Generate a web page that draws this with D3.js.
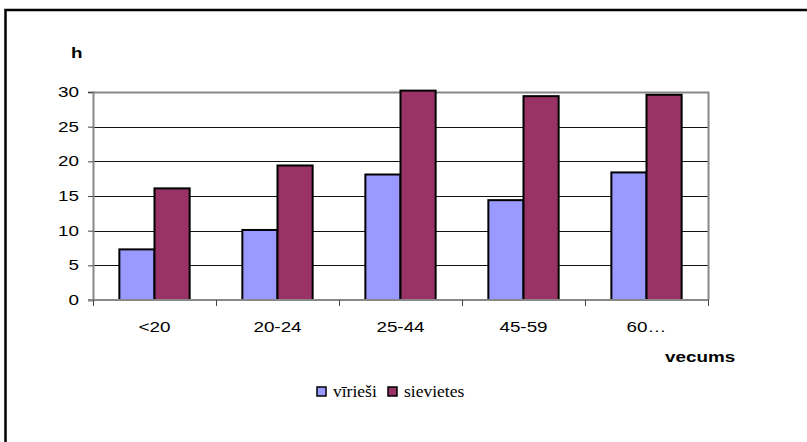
<!DOCTYPE html>
<html>
<head>
<meta charset="utf-8">
<script src="https://cdn.jsdelivr.net/npm/d3@7"></script>
<style>
  html, body { margin: 0; padding: 0; background: #fff; }
  svg { display: block; }
</style>
</head>
<body>
<svg id="chart" width="807" height="442"></svg>
<script>
// Age groups and hours per group
const categories = ["<20", "20-24", "25-44", "45-59", "60…"];
const seriesNames = ["vīrieši", "sievietes"];
const viriesi = [7.3, 10.1, 18.1, 14.4, 18.4];
const sievietes = [16.1, 19.4, 30.2, 29.4, 29.6];
const yTicks = [0, 5, 10, 15, 20, 25, 30];
const seriesColors = ["#9999FF", "#993366"];

const svg = d3.select("#chart");
const plotLeft = 93, plotRight = 708, plotTop = 92, plotBottom = 300;
const sans = "Liberation Sans, Arial, sans-serif";
const sx = 1.3; // wide sans lettering

// Outer frame
svg.append("rect")
  .attr("x", 5.5).attr("y", 10)
  .attr("width", 900).attr("height", 900)
  .attr("fill", "none").attr("stroke", "#000").attr("stroke-width", 2.5);

const x = d3.scaleBand().domain(categories).range([plotLeft, plotRight]).padding(0);
const xs = d3.scaleBand().domain(seriesNames).range([0, x.bandwidth()])
  .paddingInner(0).paddingOuter(0.75);
const y = d3.scaleLinear().domain([0, 30]).range([plotBottom, plotTop]);

// Horizontal gridlines
svg.append("g").selectAll("line")
  .data(yTicks.filter(t => t > 0 && t < 30))
  .join("line")
  .attr("x1", plotLeft).attr("x2", plotRight)
  .attr("y1", d => Math.round(y(d)) + 0.5).attr("y2", d => Math.round(y(d)) + 0.5)
  .attr("stroke", "#111").attr("stroke-width", 1);

// Plot area frame (top and right)
svg.append("path")
  .attr("d", `M${plotLeft},${Math.round(y(30)) + 0.5}H${plotRight + 0.5}V${plotBottom}`)
  .attr("fill", "none").attr("stroke", "#888").attr("stroke-width", 2);

// Bars
const rows = categories.map((c, i) => ({ c, vals: [viriesi[i], sievietes[i]] }));
const groups = svg.append("g").selectAll("g")
  .data(rows).join("g")
  .attr("transform", d => `translate(${x(d.c)},0)`);
groups.selectAll("rect")
  .data(d => d.vals.map((v, j) => ({ s: seriesNames[j], v, j })))
  .join("rect")
  .attr("x", d => xs(d.s))
  .attr("y", d => y(d.v))
  .attr("width", xs.bandwidth())
  .attr("height", d => plotBottom - y(d.v))
  .attr("fill", d => seriesColors[d.j])
  .attr("stroke", "#000").attr("stroke-width", 2);

// Y axis
const yAxis = svg.append("g")
  .attr("transform", `translate(${plotLeft},0)`)
  .call(d3.axisLeft(y).tickValues(yTicks).tickSize(5).tickPadding(9));
yAxis.select(".domain").attr("stroke", "#888").attr("stroke-width", 2);
yAxis.selectAll(".tick line").attr("stroke", "#444");
yAxis.selectAll("text")
  .attr("x", -14 / sx)
  .attr("transform", `scale(${sx},1)`)
  .attr("font-family", sans)
  .attr("font-size", 14.5).attr("fill", "#000");

// X axis with ticks at category boundaries
const xAxis = svg.append("g").attr("transform", `translate(0,${plotBottom})`);
xAxis.append("line")
  .attr("x1", plotLeft - 5).attr("x2", plotRight + 1)
  .attr("y1", 0).attr("y2", 0)
  .attr("stroke", "#888").attr("stroke-width", 2);
const bounds = categories.map(c => x(c)).concat([x(categories[categories.length - 1]) + x.bandwidth()]);
xAxis.selectAll("line.tk").data(bounds).join("line")
  .attr("class", "tk")
  .attr("x1", d => Math.round(d) + 0.5).attr("x2", d => Math.round(d) + 0.5)
  .attr("y1", 0).attr("y2", 6)
  .attr("stroke", "#444");
xAxis.selectAll("text").data(categories).join("text")
  .attr("transform", d => `translate(${x(d) + x.bandwidth() / 2},32) scale(${sx},1)`)
  .attr("text-anchor", "middle")
  .attr("font-family", sans)
  .attr("font-size", 14.5).attr("fill", "#000")
  .text(d => d);

// Axis titles
svg.append("text").attr("transform", `translate(71,58) scale(${sx},1)`)
  .attr("font-family", sans)
  .attr("font-size", 14.5).attr("font-weight", "bold").text("h");
svg.append("text").attr("transform", `translate(665,362) scale(${sx},1)`)
  .attr("font-family", sans)
  .attr("font-size", 14.5).attr("font-weight", "bold").text("vecums");

// Legend
const legendItems = [{ name: seriesNames[0], x: 317 }, { name: seriesNames[1], x: 388 }];
const legend = svg.append("g");
legendItems.forEach((it, i) => {
  legend.append("rect")
    .attr("x", it.x).attr("y", 387).attr("width", 9).attr("height", 9)
    .attr("fill", seriesColors[i]).attr("stroke", "#000").attr("stroke-width", 1.5);
  legend.append("text")
    .attr("x", it.x + 16).attr("y", 397)
    .attr("font-family", "Liberation Serif, Times New Roman, serif")
    .attr("font-size", 17.5).attr("fill", "#000")
    .text(it.name);
});
</script>
</body>
</html>
